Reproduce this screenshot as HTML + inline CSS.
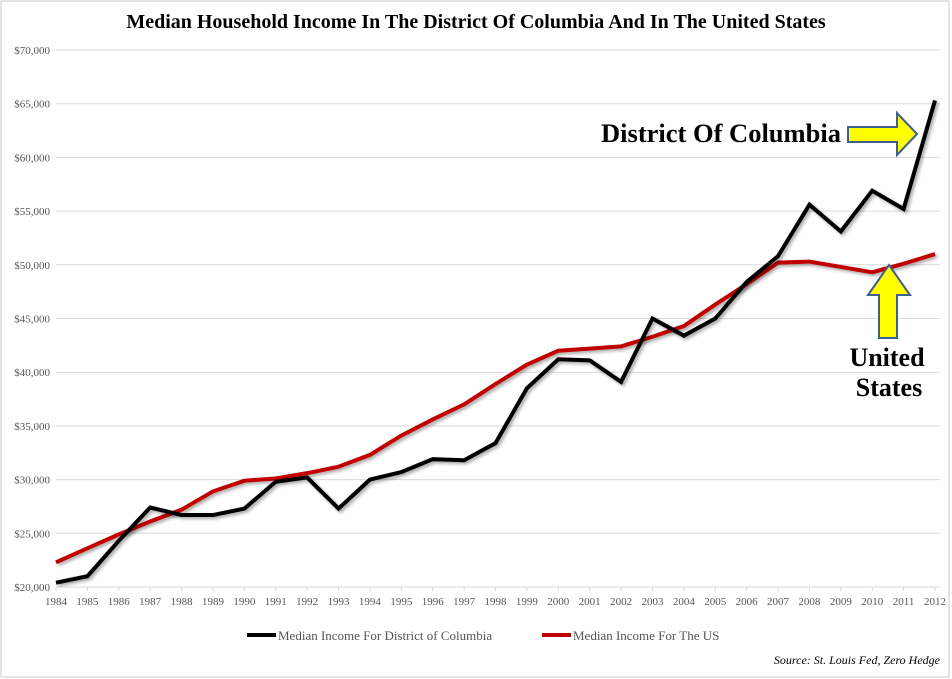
<!DOCTYPE html>
<html><head><meta charset="utf-8"><style>
body{margin:0;background:#fff;width:952px;height:679px;overflow:hidden}
svg{display:block}
</style></head><body>
<svg id="chart" width="952" height="679" xmlns="http://www.w3.org/2000/svg">
<defs><filter id="sh" x="-5%" y="-5%" width="110%" height="110%"><feDropShadow dx="2" dy="2" stdDeviation="1.5" flood-color="#000" flood-opacity="0.35"/></filter></defs>
<rect x="1" y="1" width="948" height="676" fill="#fff" stroke="#c8c8c8"/>
<text x="476" y="28" text-anchor="middle" font-family="Liberation Serif, serif" font-weight="bold" font-size="20">Median Household Income In The District Of Columbia And In The United States</text>
<g id="grid"></g><g id="ylab"></g><g id="xlab"></g><g id="lines"></g>
<text x="721" y="142" text-anchor="middle" font-family="Liberation Serif, serif" font-weight="bold" font-size="26.5">District Of Columbia</text>
<path d="M848,127 H897 V113 L917,134 L897,155 V142 H848 Z" fill="#ffff00" stroke="#3f5f8f" stroke-width="2"/>
<path d="M889,265 L910,295 H897 V338 H879 V295 H868 Z" fill="#ffff00" stroke="#3f5f8f" stroke-width="2"/>
<text x="887" y="366" text-anchor="middle" font-family="Liberation Serif, serif" font-weight="bold" font-size="26">United</text>
<text x="889" y="396" text-anchor="middle" font-family="Liberation Serif, serif" font-weight="bold" font-size="26">States</text>
<line x1="247" y1="635" x2="276" y2="635" stroke="#000" stroke-width="4"/>
<text x="278" y="640" font-family="Liberation Serif, serif" font-size="13" fill="#555">Median Income For District of Columbia</text>
<line x1="542" y1="635" x2="571" y2="635" stroke="#c00000" stroke-width="4"/>
<text x="573" y="640" font-family="Liberation Serif, serif" font-size="13" fill="#555">Median Income For The US</text>
<text x="940" y="664" text-anchor="end" font-family="Liberation Serif, serif" font-style="italic" font-size="12">Source: St. Louis Fed, Zero Hedge</text>
</svg>
<script>
const years=[1984,1985,1986,1987,1988,1989,1990,1991,1992,1993,1994,1995,1996,1997,1998,1999,2000,2001,2002,2003,2004,2005,2006,2007,2008,2009,2010,2011,2012];
const dcValues=[20400,21000,24300,27400,26700,26700,27300,29800,30200,27300,30000,30700,31900,31800,33400,38500,41200,41100,39100,45000,43400,45000,48400,50800,55600,53100,56900,55200,65300];
const usValues=[22300,23600,24900,26100,27200,28900,29900,30100,30600,31200,32300,34100,35600,37000,38900,40700,42000,42200,42400,43300,44300,46300,48200,50200,50300,49800,49300,50100,51000];
const yTicks=[20000,25000,30000,35000,40000,45000,50000,55000,60000,65000,70000];
const NS="http://www.w3.org/2000/svg";
const X0=56,X1=935,Y0=587,Y1=50,vMin=20000,vMax=70000;
function xs(i){return X0+(X1-X0)*i/(years.length-1);}
function ys(v){return Y0-(v-vMin)/(vMax-vMin)*(Y0-Y1);}
function mk(t,a){const e=document.createElementNS(NS,t);for(const k in a)e.setAttribute(k,a[k]);return e;}
const grid=document.getElementById('grid'),yl=document.getElementById('ylab'),xl=document.getElementById('xlab'),ln=document.getElementById('lines');
yTicks.forEach(v=>{
  const g=mk('line',{x1:X0,x2:940,y1:ys(v),y2:ys(v),stroke:'#d9d9d9'});
  
  
  grid.appendChild(g);
  const t=mk('text',{x:50,y:ys(v)+4,'text-anchor':'end','font-family':'Liberation Serif, serif','font-size':'11',fill:'#555'});
  t.textContent='$'+v.toLocaleString('en-US');
  
  
  yl.appendChild(t);
});
years.forEach((y,i)=>{
  const tk=mk('line',{x1:xs(i),x2:xs(i),y1:Y0,y2:Y0+4,stroke:'#d9d9d9'});
  
  
  xl.appendChild(tk);
  const t=mk('text',{x:xs(i),y:605,'text-anchor':'middle','font-family':'Liberation Serif, serif','font-size':'11',fill:'#555'});
  t.textContent=y;
  
  
  xl.appendChild(t);
});
function series(vals,color,name){
  const p=mk('polyline',{points:vals.map((v,i)=>xs(i)+','+ys(v)).join(' '),fill:'none',stroke:color,'stroke-width':4,'stroke-linejoin':'miter',filter:'url(#sh)'});
  
  
  ln.appendChild(p);
}
series(usValues,'#c00000','us-income-line');
series(dcValues,'#000','dc-income-line');
</script>
</body></html>
